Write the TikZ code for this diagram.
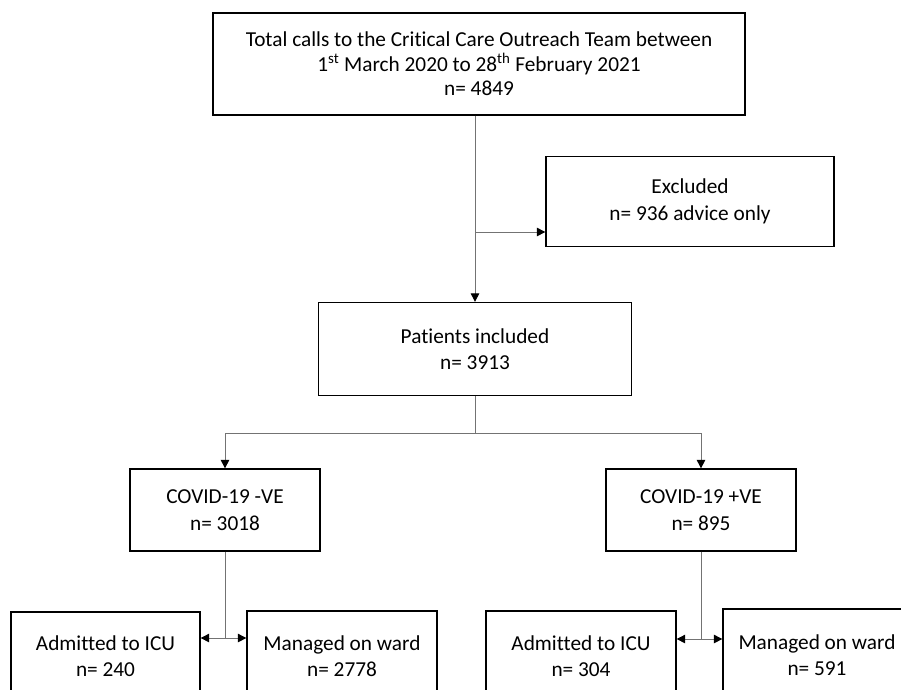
\documentclass[tikz,border=0pt]{standalone}
\usepackage{fontspec}
\setmainfont[Ligatures=NoCommon]{Carlito}
\usetikzlibrary{arrows.meta}
\begin{document}
\begin{tikzpicture}[x=1pt,y=-1pt,
  box/.style={draw=black,line width=1.3pt,rectangle,align=center,inner sep=0pt,
    font=\fontsize{21.3}{26.5}\selectfont},
  conn/.style={draw=black!55,line width=1pt},
  tip/.style={-{Triangle[length=8.5pt,width=8.5pt,color=black,fill=black]}},
  tips/.style={{Triangle[length=8.5pt,width=8.5pt,color=black,fill=black]}-{Triangle[length=8.5pt,width=8.5pt,color=black,fill=black]}}]
\useasboundingbox (0,0) rectangle (901,689);
\clip (0,0) rectangle (901,689);
\fill[white] (0,0) rectangle (901,689);

\node[box,minimum width=532pt,minimum height=102pt,font=\fontsize{21.3}{24.5}\selectfont] (top) at (479,64)
  {Total calls to the Critical Care Outreach Team between\\
   1\textsuperscript{st} March 2020 to 28\textsuperscript{th} February 2021\\
   n= 4849};
\node[box,minimum width=288pt,minimum height=90pt] (excl) at (690,201.5)
  {Excluded\\n= 936 advice only};
\node[box,minimum width=313pt,minimum height=93pt] (pat) at (475,349)
  {Patients included\\n= 3913};
\node[box,minimum width=190pt,minimum height=82pt] (neg) at (225,510)
  {COVID-19 -VE\\n= 3018};
\node[box,minimum width=190pt,minimum height=82pt] (pos) at (701,510)
  {COVID-19 +VE\\n= 895};
\node[box,minimum width=189pt,minimum height=88pt] (icu1) at (105.5,656)
  {Admitted to ICU\\n= 240};
\node[box,minimum width=190pt,minimum height=90pt] (ward1) at (342,656)
  {Managed on ward\\n= 2778};
\node[box,minimum width=190pt,minimum height=90pt] (icu2) at (581,656)
  {Admitted to ICU\\n= 304};
\node[box,minimum width=188pt,minimum height=92pt] (ward2) at (817,655)
  {Managed on ward\\n= 591};

\coordinate (j1) at (475,232);
\coordinate (b) at (475,433);
\coordinate (c1) at (225,638);
\coordinate (c2) at (701,639);

\draw[conn,tip] (top.south -| pat.north) -- (pat.north);
\draw[conn,tip] (j1) -- (excl.west |- j1);
\draw[conn] (pat.south) -- (b);
\draw[conn,tip] (b) -| (neg.north);
\draw[conn,tip] (b) -| (pos.north);
\draw[conn] (neg.south) -- (c1);
\draw[conn,tips] (icu1.east |- c1) -- (ward1.west |- c1);
\draw[conn] (pos.south) -- (c2);
\draw[conn,tips] (icu2.east |- c2) -- (ward2.west |- c2);
\end{tikzpicture}
\end{document}
